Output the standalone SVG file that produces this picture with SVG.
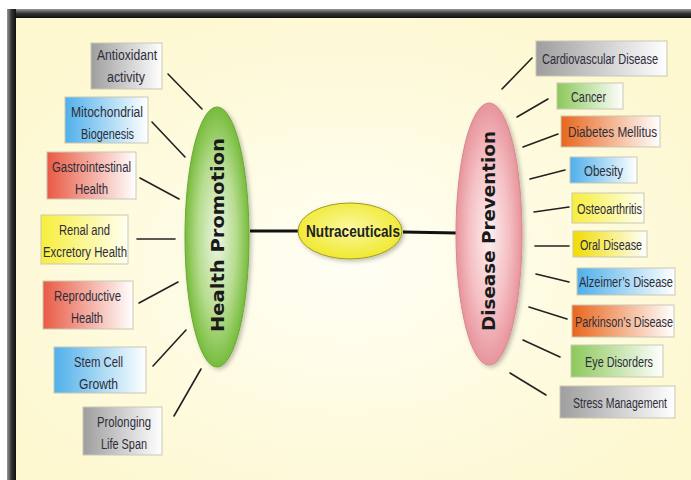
<svg xmlns="http://www.w3.org/2000/svg" width="691" height="480" viewBox="0 0 691 480">
<style>
.box{stroke:#c9c7b4;stroke-width:1}
.t{font-family:"Liberation Sans",Arial,sans-serif;font-size:15.5px;fill:#2d2d3a;text-anchor:middle}
.big{font-family:"DejaVu Sans",Verdana,sans-serif;font-weight:bold;font-size:17px;fill:#1a1a1a;text-anchor:middle}
.ln{stroke:#222;stroke-width:1.6;fill:none;stroke-linecap:round}
.main{stroke:#111;stroke-width:3;fill:none}
</style>
<defs>
<linearGradient id="gGray" x1="0" x2="1" y1="0" y2="0"><stop offset="0" stop-color="#9e9e9e"/><stop offset="1" stop-color="#ffffff"/></linearGradient>
<linearGradient id="gBlue" x1="0" x2="1" y1="0" y2="0"><stop offset="0" stop-color="#4fb0ea"/><stop offset="1" stop-color="#ffffff"/></linearGradient>
<linearGradient id="gRed" x1="0" x2="1" y1="0" y2="0"><stop offset="0" stop-color="#e85a44"/><stop offset="1" stop-color="#ffffff"/></linearGradient>
<linearGradient id="gYel" x1="0" x2="1" y1="0" y2="0"><stop offset="0" stop-color="#f7ee3a"/><stop offset="1" stop-color="#fffff2"/></linearGradient>
<linearGradient id="gYel2" x1="0" x2="1" y1="0" y2="0"><stop offset="0" stop-color="#f0dc00"/><stop offset="1" stop-color="#ffffff"/></linearGradient>
<linearGradient id="gGreen" x1="0" x2="1" y1="0" y2="0"><stop offset="0" stop-color="#8cc85a"/><stop offset="1" stop-color="#ffffff"/></linearGradient>
<linearGradient id="gOrange" x1="0" x2="1" y1="0" y2="0"><stop offset="0" stop-color="#e8661c"/><stop offset="1" stop-color="#ffffff"/></linearGradient>
<radialGradient id="gHP" cx="0.5" cy="0.5" r="0.5"><stop offset="0" stop-color="#eef6e4"/><stop offset="0.6" stop-color="#b6dc8e"/><stop offset="1" stop-color="#76bc3c"/></radialGradient>
<radialGradient id="gDP" cx="0.5" cy="0.5" r="0.5"><stop offset="0" stop-color="#fdf0f0"/><stop offset="0.6" stop-color="#f4c0c4"/><stop offset="1" stop-color="#e8949c"/></radialGradient>
<radialGradient id="gNu" cx="0.5" cy="0.45" r="0.55"><stop offset="0" stop-color="#fbf9a0"/><stop offset="1" stop-color="#f0e830"/></radialGradient>
<radialGradient id="gBg" cx="0.5" cy="0.55" r="0.6"><stop offset="0" stop-color="#fffef4"/><stop offset="1" stop-color="#fdf8d0"/></radialGradient>
<linearGradient id="gTop" x1="0" x2="0" y1="0" y2="1"><stop offset="0" stop-color="#9a9a9a"/><stop offset="0.5" stop-color="#333"/><stop offset="1" stop-color="#111"/></linearGradient>
<linearGradient id="gLeft" x1="0" x2="1" y1="0" y2="0"><stop offset="0" stop-color="#9a9a9a"/><stop offset="0.5" stop-color="#333"/><stop offset="1" stop-color="#111"/></linearGradient>
<filter id="sh" x="-20%" y="-10%" width="140%" height="120%"><feDropShadow dx="2" dy="2" stdDeviation="2" flood-color="#000" flood-opacity="0.25"/></filter>
</defs>
<rect x="0" y="0" width="691" height="480" fill="#ffffff"/>
<rect x="7" y="9" width="684" height="471" fill="url(#gBg)"/>
<rect x="7" y="9" width="684" height="9" fill="url(#gTop)"/>
<rect x="7" y="9" width="9" height="471" fill="url(#gLeft)"/>

<g id="connectors">
<line class="main" x1="250" y1="231" x2="298" y2="231"/>
<line class="main" x1="403" y1="232" x2="457" y2="233"/>
<line class="ln" x1="168" y1="74" x2="202" y2="109"/>
<line class="ln" x1="152" y1="122" x2="185" y2="157"/>
<line class="ln" x1="140" y1="178" x2="179" y2="199"/>
<line class="ln" x1="137" y1="239" x2="175" y2="239"/>
<line class="ln" x1="139" y1="303" x2="178" y2="282"/>
<line class="ln" x1="153" y1="366" x2="186" y2="330"/>
<line class="ln" x1="174" y1="416" x2="201" y2="369"/>
<line class="ln" x1="502" y1="89" x2="532" y2="58"/>
<line class="ln" x1="517" y1="117" x2="548" y2="99"/>
<line class="ln" x1="523" y1="147" x2="558" y2="134"/>
<line class="ln" x1="530" y1="179" x2="565" y2="170"/>
<line class="ln" x1="534" y1="212" x2="569" y2="207"/>
<line class="ln" x1="535" y1="246" x2="569" y2="246"/>
<line class="ln" x1="536" y1="274" x2="569" y2="282"/>
<line class="ln" x1="529" y1="307" x2="567" y2="319"/>
<line class="ln" x1="523" y1="340" x2="560" y2="357"/>
<line class="ln" x1="510" y1="373" x2="546" y2="395"/>
</g>

<g id="health-promotion">
<ellipse cx="217" cy="237" rx="32" ry="130" fill="url(#gHP)" stroke="#6aa834" stroke-width="1" filter="url(#sh)"/>
<text class="big" transform="translate(224,235) rotate(-90)" textLength="194" lengthAdjust="spacingAndGlyphs">Health Promotion</text>
</g>
<g id="disease-prevention">
<ellipse cx="489" cy="234" rx="33" ry="131" fill="url(#gDP)" stroke="#d88890" stroke-width="1" filter="url(#sh)"/>
<text class="big" transform="translate(495,231) rotate(-90)" textLength="200" lengthAdjust="spacingAndGlyphs">Disease Prevention</text>
</g>
<g id="nutraceuticals">
<ellipse cx="350" cy="231" rx="52" ry="28" fill="url(#gNu)" stroke="#a09a20" stroke-width="1" filter="url(#sh)"/>
<text class="t" x="353" y="237" textLength="94" lengthAdjust="spacingAndGlyphs" style="font-size:16.5px;font-weight:bold;fill:#222">Nutraceuticals</text>
</g>

<g id="antioxidant"><rect class="box" x="91" y="43" width="71" height="46" fill="url(#gGray)"/><text class="t" transform="translate(127,59.5) scale(0.75,1)" textLength="80" lengthAdjust="spacingAndGlyphs">Antioxidant</text><text class="t" transform="translate(126,81.5) scale(0.75,1)" textLength="50.7" lengthAdjust="spacingAndGlyphs">activity</text></g>
<g id="mitochondrial"><rect class="box" x="65" y="97" width="83" height="46" fill="url(#gBlue)"/><text class="t" transform="translate(107,116.5) scale(0.75,1)" textLength="96" lengthAdjust="spacingAndGlyphs">Mitochondrial</text><text class="t" transform="translate(107.5,138.5) scale(0.75,1)" textLength="70.7" lengthAdjust="spacingAndGlyphs">Biogenesis</text></g>
<g id="gastro"><rect class="box" x="47" y="152" width="89" height="47" fill="url(#gRed)"/><text class="t" transform="translate(91.5,171.5) scale(0.75,1)" textLength="105.3" lengthAdjust="spacingAndGlyphs">Gastrointestinal</text><text class="t" transform="translate(91.5,193.5) scale(0.75,1)" textLength="44" lengthAdjust="spacingAndGlyphs">Health</text></g>
<g id="renal"><rect class="box" x="41" y="215" width="87" height="49" fill="url(#gYel)"/><text class="t" transform="translate(84.5,234.5) scale(0.75,1)" textLength="68" lengthAdjust="spacingAndGlyphs">Renal and</text><text class="t" transform="translate(85,256.5) scale(0.75,1)" textLength="112" lengthAdjust="spacingAndGlyphs">Excretory Health</text></g>
<g id="reproductive"><rect class="box" x="43" y="281" width="90" height="48" fill="url(#gRed)"/><text class="t" transform="translate(87.5,300.5) scale(0.75,1)" textLength="89.3" lengthAdjust="spacingAndGlyphs">Reproductive</text><text class="t" transform="translate(87,322.5) scale(0.75,1)" textLength="42.7" lengthAdjust="spacingAndGlyphs">Health</text></g>
<g id="stemcell"><rect class="box" x="54" y="347" width="92" height="46" fill="url(#gBlue)"/><text class="t" transform="translate(98.5,366.5) scale(0.75,1)" textLength="65.3" lengthAdjust="spacingAndGlyphs">Stem Cell</text><text class="t" transform="translate(98.5,388.5) scale(0.75,1)" textLength="52" lengthAdjust="spacingAndGlyphs">Growth</text></g>
<g id="prolonging"><rect class="box" x="83" y="407" width="79" height="48" fill="url(#gGray)"/><text class="t" transform="translate(124,426.5) scale(0.75,1)" textLength="72" lengthAdjust="spacingAndGlyphs">Prolonging</text><text class="t" transform="translate(124,448.5) scale(0.75,1)" textLength="61.3" lengthAdjust="spacingAndGlyphs">Life Span</text></g>

<g id="cardio"><rect class="box" x="536" y="41" width="131" height="35" fill="url(#gGray)"/><text class="t" transform="translate(600,64) scale(0.75,1)" textLength="154.7" lengthAdjust="spacingAndGlyphs">Cardiovascular Disease</text></g>
<g id="cancer"><rect class="box" x="557" y="83" width="66" height="26" fill="url(#gGreen)"/><text class="t" transform="translate(588.5,101.5) scale(0.75,1)" textLength="46.7" lengthAdjust="spacingAndGlyphs">Cancer</text></g>
<g id="diabetes"><rect class="box" x="561" y="116" width="99" height="31" fill="url(#gOrange)"/><text class="t" transform="translate(612.5,137) scale(0.75,1)" textLength="118.7" lengthAdjust="spacingAndGlyphs">Diabetes Mellitus</text></g>
<g id="obesity"><rect class="box" x="570" y="157" width="67" height="26" fill="url(#gBlue)"/><text class="t" transform="translate(603.5,175.5) scale(0.75,1)" textLength="52" lengthAdjust="spacingAndGlyphs">Obesity</text></g>
<g id="osteo"><rect class="box" x="572" y="193" width="72" height="30" fill="url(#gYel)"/><text class="t" transform="translate(609.5,213.5) scale(0.75,1)" textLength="86.7" lengthAdjust="spacingAndGlyphs">Osteoarthritis</text></g>
<g id="oral"><rect class="box" x="573" y="231" width="74" height="26" fill="url(#gYel2)"/><text class="t" transform="translate(611,249.5) scale(0.75,1)" textLength="82.7" lengthAdjust="spacingAndGlyphs">Oral Disease</text></g>
<g id="alzeimer"><rect class="box" x="577" y="268" width="98" height="27" fill="url(#gBlue)"/><text class="t" transform="translate(626,287) scale(0.75,1)" textLength="125.3" lengthAdjust="spacingAndGlyphs">Alzeimer’s Disease</text></g>
<g id="parkinson"><rect class="box" x="572" y="305" width="102" height="32" fill="url(#gOrange)"/><text class="t" transform="translate(624,326.5) scale(0.75,1)" textLength="130.7" lengthAdjust="spacingAndGlyphs">Parkinson’s Disease</text></g>
<g id="eye"><rect class="box" x="571" y="345" width="92" height="32" fill="url(#gGreen)"/><text class="t" transform="translate(619,366.5) scale(0.75,1)" textLength="90.7" lengthAdjust="spacingAndGlyphs">Eye Disorders</text></g>
<g id="stress"><rect class="box" x="560" y="386" width="115" height="32" fill="url(#gGray)"/><text class="t" transform="translate(620,407.5) scale(0.75,1)" textLength="125.3" lengthAdjust="spacingAndGlyphs">Stress Management</text></g>
</svg>
